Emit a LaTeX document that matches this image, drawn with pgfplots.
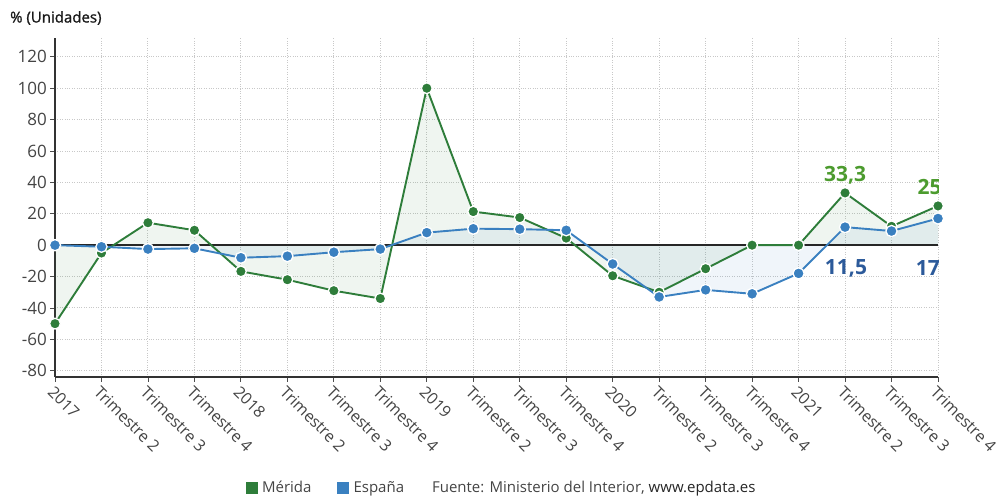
\documentclass[border=0pt]{standalone}
\usepackage{fontspec}
\setmainfont{Open Sans}
\newfontfamily\titlefont[FakeBold=1.2]{Open Sans}
\usepackage{pgfplots}
\pgfplotsset{compat=1.18}
\definecolor{merida}{RGB}{46,125,58}
\definecolor{espana}{RGB}{58,128,192}
\definecolor{meridalab}{RGB}{76,155,46}
\definecolor{espanalab}{RGB}{44,90,154}
\definecolor{ticktext}{RGB}{68,68,68}
\definecolor{gridc}{RGB}{200,200,200}
\begin{document}
\begin{tikzpicture}
\path[use as bounding box] (-55pt,-120pt) rectangle (941pt,377pt);
\begin{axis}[
 at={(0pt,0pt)}, anchor=south west,
 scale only axis, width=883pt, height=339pt,
 xmin=0, xmax=19, ymin=-84, ymax=132,
 axis x line*=bottom, axis y line*=left,
 axis line style={-, draw=black!80, line width=1.6pt},
 xtick={0,...,19},
 xticklabels={2017,Trimestre 2,Trimestre 3,Trimestre 4,2018,Trimestre 2,Trimestre 3,Trimestre 4,2019,Trimestre 2,Trimestre 3,Trimestre 4,2020,Trimestre 2,Trimestre 3,Trimestre 4,2021,Trimestre 2,Trimestre 3,Trimestre 4},
 ytick={-80,-60,...,120},
 /pgf/number format/assume math mode=true,
 tick align=outside, major tick length=5pt,
 tick style={draw=black!70, line width=0.8pt},
 grid=major, grid style={dotted, draw=gridc, line width=0.9pt},
 xticklabel style={rotate=-45, anchor=north west, inner sep=2pt, font=\fontsize{16}{18}\selectfont, text=ticktext},
 yticklabel style={font=\fontsize{17}{19}\selectfont, text=ticktext, inner sep=3pt},
 legend style={at={(axis description cs:0.506,-0.327)}, anchor=center, draw=none, fill=none,
   font=\fontsize{15}{17}\selectfont, text=ticktext,
   /tikz/every even column/.append style={column sep=24pt}},
 legend columns=-1, legend cell align=left,
]
% fills
\addplot[draw=none, fill=merida, fill opacity=0.08, forget plot] coordinates {
(0,-50) (1,-5) (2,14.3) (3,9.5) (4,-16.7) (5,-22) (6,-29) (7,-34) (8,100) (9,21.4)
(10,17.6) (11,4.5) (12,-19.5) (13,-30) (14,-15) (15,0) (16,0) (17,33.3) (18,12) (19,25)} \closedcycle;
\addplot[draw=none, fill=espana, fill opacity=0.08, forget plot] coordinates {
(0,0) (1,-1) (2,-2.5) (3,-2) (4,-8) (5,-7) (6,-4.5) (7,-2.5) (8,8) (9,10.5)
(10,10.2) (11,9.5) (12,-12) (13,-33) (14,-28.5) (15,-31) (16,-18) (17,11.5) (18,9) (19,17)} \closedcycle;
% zero line
\addplot[black!85, line width=1.4pt, forget plot] coordinates {(0,0) (19,0)};
% Merida
\addplot[merida, line width=1.9pt, mark=*, mark size=5.4pt,
  mark options={fill=merida, draw=white, line width=1.3pt}, forget plot] coordinates {
(0,-50) (1,-5) (2,14.3) (3,9.5) (4,-16.7) (5,-22) (6,-29) (7,-34) (8,100) (9,21.4)
(10,17.6) (11,4.5) (12,-19.5) (13,-30) (14,-15) (15,0) (16,0) (17,33.3) (18,12) (19,25)};
% Espana
\addplot[espana, line width=1.9pt, mark=*, mark size=5.6pt,
  mark options={fill=espana, draw=white, line width=1.3pt}, forget plot] coordinates {
(0,0) (1,-1) (2,-2.5) (3,-2) (4,-8) (5,-7) (6,-4.5) (7,-2.5) (8,8) (9,10.5)
(10,10.2) (11,9.5) (12,-12) (13,-33) (14,-28.5) (15,-31) (16,-18) (17,11.5) (18,9) (19,17)};
% labels
\node[text=meridalab, font=\fontsize{21}{24}\selectfont\bfseries] at (axis cs:17,44.7) {33,3};
\node[text=meridalab, font=\fontsize{21}{24}\selectfont\bfseries] at (axis cs:18.82,37) {25};
\node[text=espanalab, font=\fontsize{21}{24}\selectfont\bfseries] at (axis cs:17.02,-14.7) {11,5};
\node[text=espanalab, font=\fontsize{21}{24}\selectfont\bfseries] at (axis cs:18.78,-14.7) {17};
% legend
\addlegendimage{only marks, mark=square*, mark size=5.5pt, color=merida}
\addlegendentry{\hspace{3pt}Mérida}
\addlegendimage{only marks, mark=square*, mark size=5.5pt, color=espana}
\addlegendentry{\hspace{3pt}España}
\addlegendimage{empty legend}
\addlegendentry{Fuente: Ministerio del Interior, \textcolor{black!85}{www.epdata.es}}
\end{axis}
\node[anchor=west, font=\titlefont\fontsize{15}{17}\selectfont, text=black!90, inner sep=0pt] at (-45pt,359pt) {\% (Unidades)};
\end{tikzpicture}
\end{document}
